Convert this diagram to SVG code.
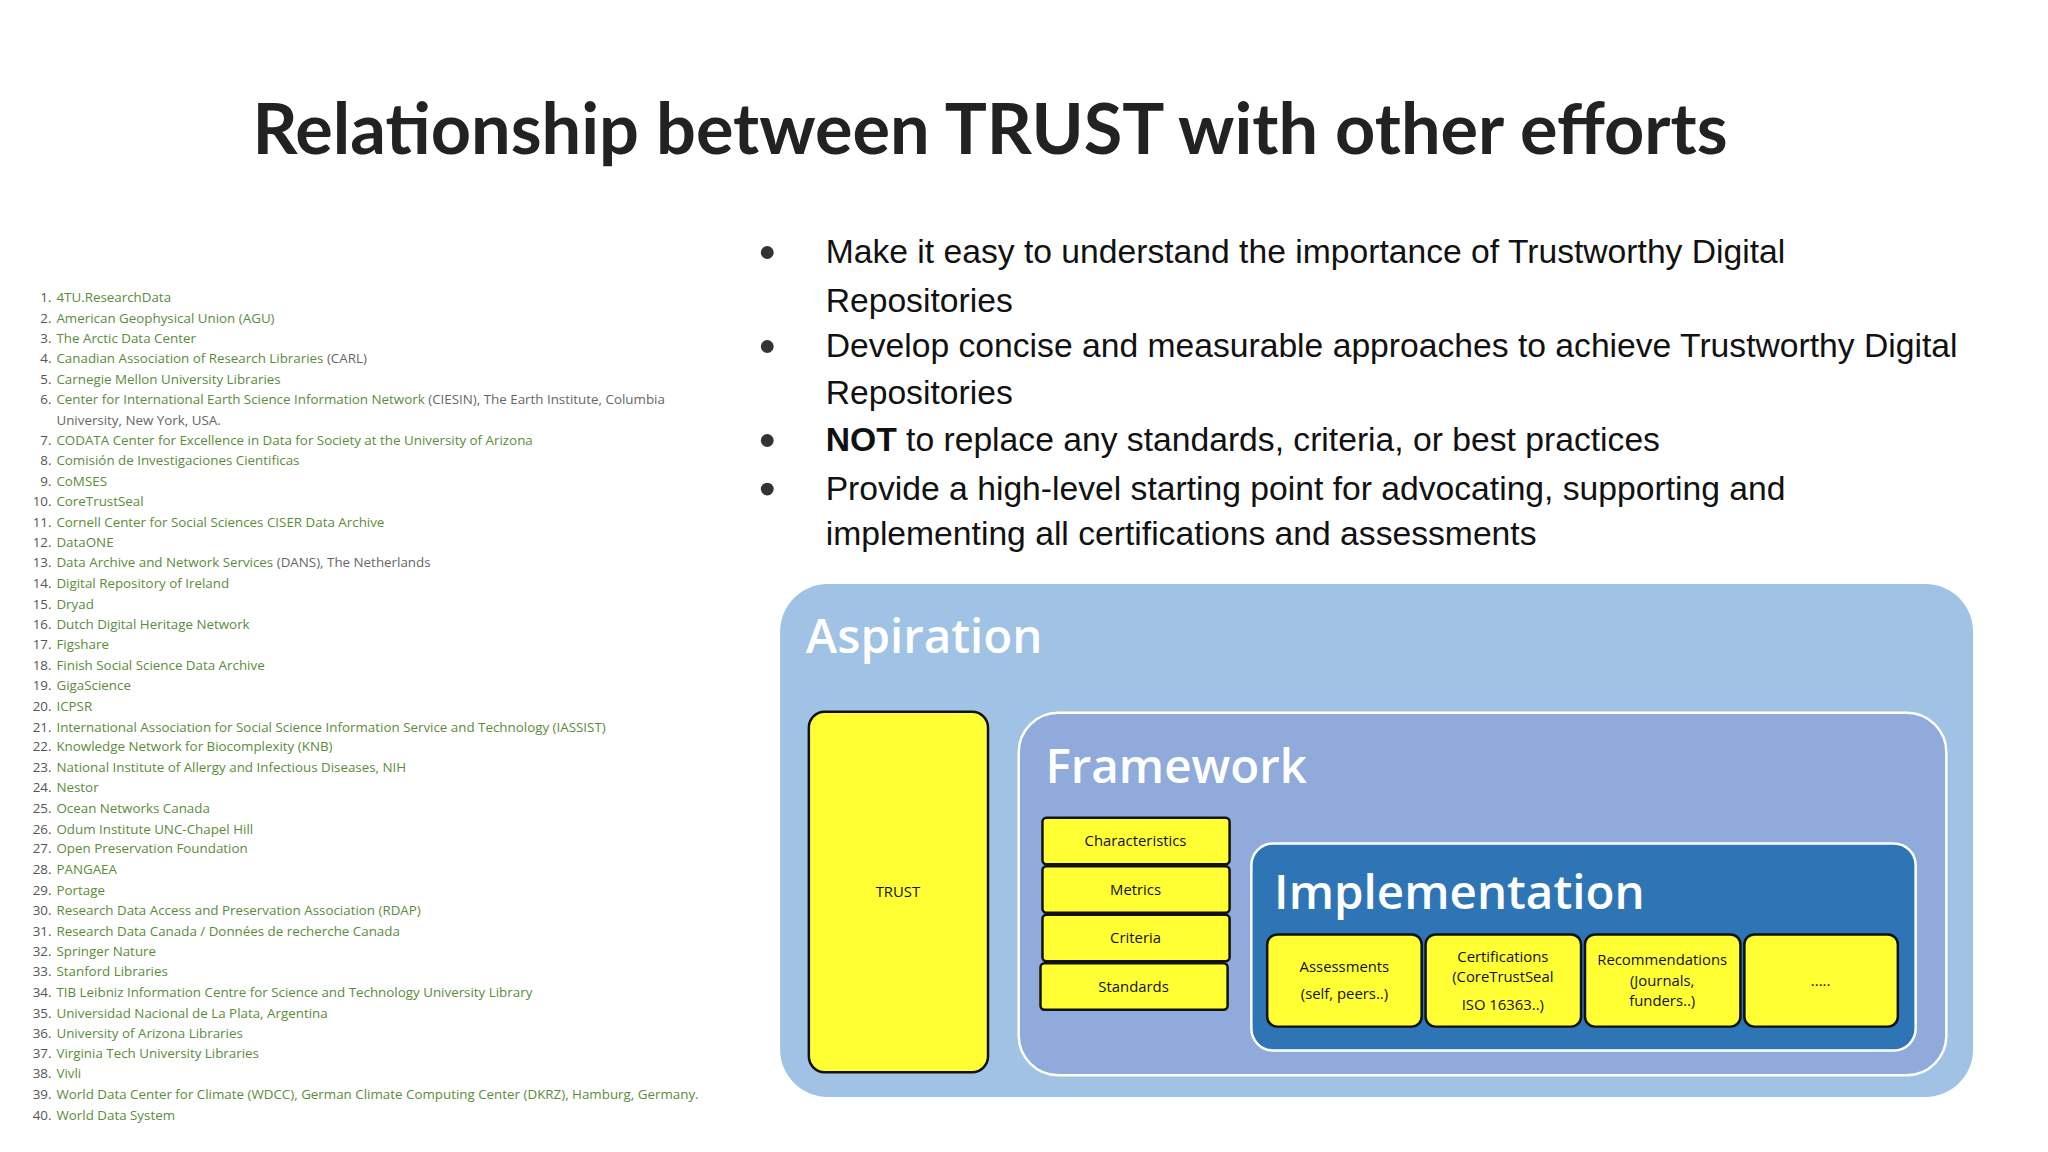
<svg xmlns="http://www.w3.org/2000/svg" width="2048" height="1152" viewBox="0 0 2048 1152">
<style>
.li{font-family:"Open Sans",sans-serif;font-size:13.5px;fill:#5b8c3a}
.n{font-family:"Open Sans",sans-serif;font-size:13.5px;fill:#555;text-anchor:end}
.g{fill:#666}
.b{font-family:"Liberation Sans",Arial,sans-serif;font-size:34px;fill:#111}
.dot{fill:#333}
.y{fill:#ffff33;stroke:#111;stroke-width:2.5}
.yt{font-family:"Open Sans",sans-serif;font-size:15px;fill:#111;text-anchor:middle}
.big{font-family:"Open Sans",sans-serif;fill:#fff;font-weight:600}
</style>
<rect width="2048" height="1152" fill="#fff"/>
<g transform="scale(0.99)">
<text x="1000" y="156" text-anchor="middle" font-family="Lato,sans-serif" font-weight="bold" font-size="71" fill="#222">Relationship between TRUST with other efforts</text>
<g id="list">
<text x="52" y="305" class="n">1.</text><text x="57" y="305" class="li">4TU.ResearchData</text>
<text x="52" y="326" class="n">2.</text><text x="57" y="326" class="li">American Geophysical Union (AGU)</text>
<text x="52" y="346" class="n">3.</text><text x="57" y="346" class="li">The Arctic Data Center</text>
<text x="52" y="367" class="n">4.</text><text x="57" y="367" class="li">Canadian Association of Research Libraries <tspan class="g">(CARL)</tspan></text>
<text x="52" y="388" class="n">5.</text><text x="57" y="388" class="li">Carnegie Mellon University Libraries</text>
<text x="52" y="408" class="n">6.</text><text x="57" y="408" class="li">Center for International Earth Science Information Network <tspan class="g">(CIESIN), The Earth Institute, Columbia</tspan></text>
<text x="57" y="429" class="li g">University, New York, USA.</text>
<text x="52" y="450" class="n">7.</text><text x="57" y="450" class="li">CODATA Center for Excellence in Data for Society at the University of Arizona</text>
<text x="52" y="470" class="n">8.</text><text x="57" y="470" class="li">Comisión de Investigaciones Cientificas</text>
<text x="52" y="491" class="n">9.</text><text x="57" y="491" class="li">CoMSES</text>
<text x="52" y="511" class="n">10.</text><text x="57" y="511" class="li">CoreTrustSeal</text>
<text x="52" y="532" class="n">11.</text><text x="57" y="532" class="li">Cornell Center for Social Sciences CISER Data Archive</text>
<text x="52" y="553" class="n">12.</text><text x="57" y="553" class="li">DataONE</text>
<text x="52" y="573" class="n">13.</text><text x="57" y="573" class="li">Data Archive and Network Services <tspan class="g">(DANS), The Netherlands</tspan></text>
<text x="52" y="594" class="n">14.</text><text x="57" y="594" class="li">Digital Repository of Ireland</text>
<text x="52" y="615" class="n">15.</text><text x="57" y="615" class="li">Dryad</text>
<text x="52" y="635" class="n">16.</text><text x="57" y="635" class="li">Dutch Digital Heritage Network</text>
<text x="52" y="656" class="n">17.</text><text x="57" y="656" class="li">Figshare</text>
<text x="52" y="677" class="n">18.</text><text x="57" y="677" class="li">Finish Social Science Data Archive</text>
<text x="52" y="697" class="n">19.</text><text x="57" y="697" class="li">GigaScience</text>
<text x="52" y="718" class="n">20.</text><text x="57" y="718" class="li">ICPSR</text>
<text x="52" y="739" class="n">21.</text><text x="57" y="739" class="li">International Association for Social Science Information Service and Technology (IASSIST)</text>
<text x="52" y="759" class="n">22.</text><text x="57" y="759" class="li">Knowledge Network for Biocomplexity (KNB)</text>
<text x="52" y="780" class="n">23.</text><text x="57" y="780" class="li">National Institute of Allergy and Infectious Diseases, NIH</text>
<text x="52" y="800" class="n">24.</text><text x="57" y="800" class="li">Nestor</text>
<text x="52" y="821" class="n">25.</text><text x="57" y="821" class="li">Ocean Networks Canada</text>
<text x="52" y="842" class="n">26.</text><text x="57" y="842" class="li">Odum Institute UNC-Chapel Hill</text>
<text x="52" y="862" class="n">27.</text><text x="57" y="862" class="li">Open Preservation Foundation</text>
<text x="52" y="883" class="n">28.</text><text x="57" y="883" class="li">PANGAEA</text>
<text x="52" y="904" class="n">29.</text><text x="57" y="904" class="li">Portage</text>
<text x="52" y="924" class="n">30.</text><text x="57" y="924" class="li">Research Data Access and Preservation Association (RDAP)</text>
<text x="52" y="945" class="n">31.</text><text x="57" y="945" class="li">Research Data Canada / Données de recherche Canada</text>
<text x="52" y="966" class="n">32.</text><text x="57" y="966" class="li">Springer Nature</text>
<text x="52" y="986" class="n">33.</text><text x="57" y="986" class="li">Stanford Libraries</text>
<text x="52" y="1007" class="n">34.</text><text x="57" y="1007" class="li">TIB Leibniz Information Centre for Science and Technology University Library</text>
<text x="52" y="1028" class="n">35.</text><text x="57" y="1028" class="li">Universidad Nacional de La Plata, Argentina</text>
<text x="52" y="1048" class="n">36.</text><text x="57" y="1048" class="li">University of Arizona Libraries</text>
<text x="52" y="1069" class="n">37.</text><text x="57" y="1069" class="li">Virginia Tech University Libraries</text>
<text x="52" y="1089" class="n">38.</text><text x="57" y="1089" class="li">Vivli</text>
<text x="52" y="1110" class="n">39.</text><text x="57" y="1110" class="li">World Data Center for Climate (WDCC), German Climate Computing Center (DKRZ), Hamburg, Germany.</text>
<text x="52" y="1131" class="n">40.</text><text x="57" y="1131" class="li">World Data System</text>
</g>
<g id="bullets">
<circle cx="775" cy="255" r="6.5" class="dot"/><circle cx="775" cy="350" r="6.5" class="dot"/><circle cx="775" cy="445" r="6.5" class="dot"/><circle cx="775" cy="494" r="6.5" class="dot"/>
<text x="834" y="266" class="b">Make it easy to understand the importance of Trustworthy Digital</text>
<text x="834" y="315" class="b">Repositories</text>
<text x="834" y="361" class="b">Develop concise and measurable approaches to achieve Trustworthy Digital</text>
<text x="834" y="408" class="b">Repositories</text>
<text x="834" y="456" class="b"><tspan font-weight="bold">NOT</tspan> to replace any standards, criteria, or best practices</text>
<text x="834" y="505" class="b">Provide a high-level starting point for advocating, supporting and</text>
<text x="834" y="551" class="b">implementing all certifications and assessments</text>
</g>
<g id="aspiration">
<rect x="788" y="590" width="1205" height="518" rx="48" fill="#9fc2e5"/>
<text x="814" y="660" class="big" font-size="48">Aspiration</text>
</g>
<g id="trust">
<rect x="817" y="719" width="181" height="364" rx="16" class="y"/>
<text x="907" y="906" class="yt">TRUST</text>
</g>
<g id="framework">
<rect x="1029" y="720" width="937" height="366" rx="40" fill="#8faadb" stroke="#fff" stroke-width="2.5"/>
<text x="1056" y="791" class="big" font-size="48">Framework</text>
</g>
<g id="characteristics"><rect x="1053" y="826" width="189" height="47" rx="4" class="y"/><text x="1147" y="855" class="yt">Characteristics</text></g>
<g id="metrics"><rect x="1053" y="875" width="189" height="47" rx="4" class="y"/><text x="1147" y="904" class="yt">Metrics</text></g>
<g id="criteria"><rect x="1053" y="924" width="189" height="47" rx="4" class="y"/><text x="1147" y="953" class="yt">Criteria</text></g>
<g id="standards"><rect x="1051" y="973" width="189" height="47" rx="4" class="y"/><text x="1145" y="1002" class="yt">Standards</text></g>
<g id="implementation">
<rect x="1264" y="852" width="671" height="209" rx="22" fill="#2e75b6" stroke="#fff" stroke-width="2.5"/>
<text x="1287" y="918" class="big" font-size="48">Implementation</text>
</g>
<g id="assessments"><rect x="1280" y="944" width="156" height="93" rx="10" class="y"/><text x="1358" y="982" class="yt">Assessments</text><text x="1358" y="1009" class="yt">(self, peers..)</text></g>
<g id="certifications"><rect x="1440" y="944" width="157" height="93" rx="10" class="y"/><text x="1518" y="972" class="yt">Certifications</text><text x="1518" y="992" class="yt">(CoreTrustSeal</text><text x="1518" y="1020" class="yt">ISO 16363..)</text></g>
<g id="recommendations"><rect x="1601" y="944" width="157" height="93" rx="10" class="y"/><text x="1679" y="975" class="yt">Recommendations</text><text x="1679" y="996" class="yt">(Journals,</text><text x="1679" y="1016" class="yt">funders..)</text></g>
<g id="more"><rect x="1762" y="944" width="155" height="93" rx="10" class="y"/><text x="1839" y="996" class="yt">.....</text></g>
<g id="connectors"/>
</g>
</svg>
